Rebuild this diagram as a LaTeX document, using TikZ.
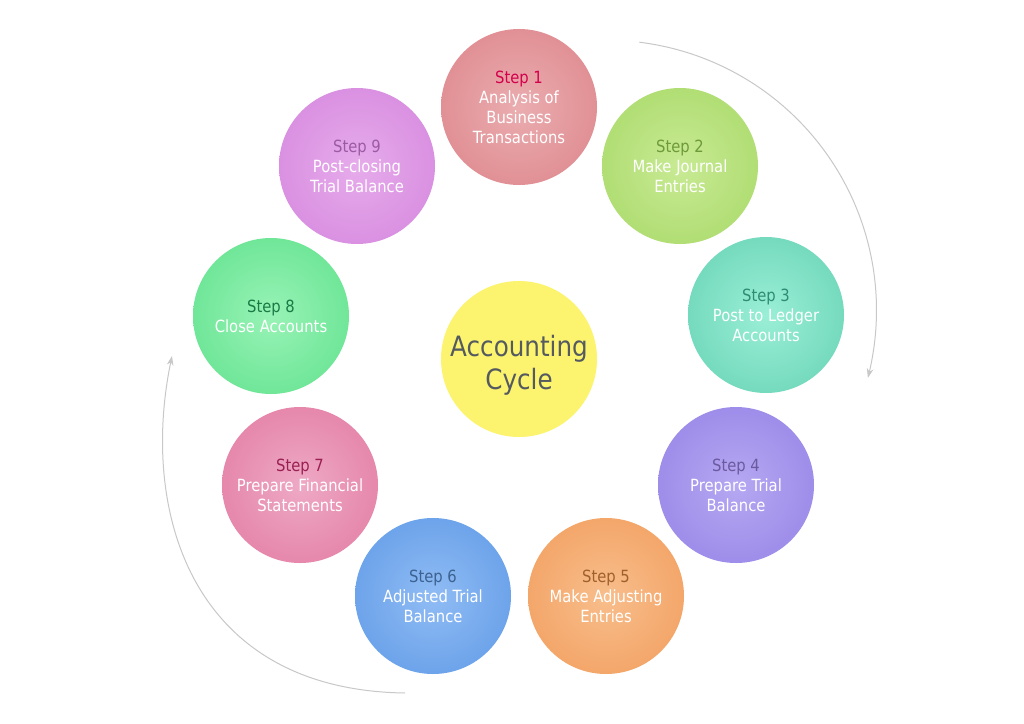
\documentclass[tikz,border=0pt]{standalone}
\usepackage{fontspec}
\setmainfont{DejaVu Sans}[FakeStretch=0.88]
\usetikzlibrary{arrows.meta}
\definecolor{o1}{HTML}{D8757B}\definecolor{i1}{HTML}{EAADB0}\definecolor{l1}{HTML}{D4004C}
\definecolor{o2}{HTML}{9BD256}\definecolor{i2}{HTML}{C8EA94}\definecolor{l2}{HTML}{6E9A3A}
\definecolor{o3}{HTML}{52C6A6}\definecolor{i3}{HTML}{9AEFD6}\definecolor{l3}{HTML}{2E8C72}
\definecolor{o4}{HTML}{8874E1}\definecolor{i4}{HTML}{B6A8F2}\definecolor{l4}{HTML}{6A5A9E}
\definecolor{o5}{HTML}{EF904A}\definecolor{i5}{HTML}{F8BE8C}\definecolor{l5}{HTML}{A0602E}
\definecolor{o6}{HTML}{4C8CE1}\definecolor{i6}{HTML}{90BCF4}\definecolor{l6}{HTML}{3C6290}
\definecolor{o7}{HTML}{DE6893}\definecolor{i7}{HTML}{EEA9C5}\definecolor{l7}{HTML}{9A1F52}
\definecolor{o8}{HTML}{4ADA7D}\definecolor{i8}{HTML}{98F3B6}\definecolor{l8}{HTML}{1A7A45}
\definecolor{o9}{HTML}{CE76D8}\definecolor{i9}{HTML}{E6ACEB}\definecolor{l9}{HTML}{9C5AA2}
\definecolor{cyel}{HTML}{FCF46F}
\definecolor{ctext}{HTML}{555A60}
\definecolor{arcgray}{HTML}{C8C8C8}
\pgfdeclareradialshading{sh1}{\pgfpointorigin}{color(0bp)=(i1); color(22bp)=(i1!55!o1); color(50bp)=(o1)}
\pgfdeclareradialshading{sh2}{\pgfpointorigin}{color(0bp)=(i2); color(22bp)=(i2!55!o2); color(50bp)=(o2)}
\pgfdeclareradialshading{sh3}{\pgfpointorigin}{color(0bp)=(i3); color(22bp)=(i3!55!o3); color(50bp)=(o3)}
\pgfdeclareradialshading{sh4}{\pgfpointorigin}{color(0bp)=(i4); color(22bp)=(i4!55!o4); color(50bp)=(o4)}
\pgfdeclareradialshading{sh5}{\pgfpointorigin}{color(0bp)=(i5); color(22bp)=(i5!55!o5); color(50bp)=(o5)}
\pgfdeclareradialshading{sh6}{\pgfpointorigin}{color(0bp)=(i6); color(22bp)=(i6!55!o6); color(50bp)=(o6)}
\pgfdeclareradialshading{sh7}{\pgfpointorigin}{color(0bp)=(i7); color(22bp)=(i7!55!o7); color(50bp)=(o7)}
\pgfdeclareradialshading{sh8}{\pgfpointorigin}{color(0bp)=(i8); color(22bp)=(i8!55!o8); color(50bp)=(o8)}
\pgfdeclareradialshading{sh9}{\pgfpointorigin}{color(0bp)=(i9); color(22bp)=(i9!55!o9); color(50bp)=(o9)}
\begin{document}
\begin{tikzpicture}[x=0.75pt,y=-0.75pt,
  bub/.style={circle, minimum size=117pt, inner sep=0pt, align=center, text=white,
    font=\fontsize{12.6pt}{15pt}\selectfont},
  hub/.style={circle, minimum size=117pt, inner sep=0pt, align=center, fill=cyel, text=ctext,
    font=\fontsize{21pt}{24.75pt}\selectfont},
  cyc/.style={draw=arcgray, line width=0.75pt, -{Stealth[length=7pt,width=5pt]}}]
\useasboundingbox[fill=white] (0,0) rectangle (1024,724);
\coordinate (ra) at (640,42);
\coordinate (la) at (405,693);
\coordinate (lb) at (172,356);
\draw[cyc] plot[domain=-83:14.5, samples=80, smooth] ({606.5+270*cos(\x)},{310.2+270*sin(\x)});
\draw[cyc] (la) .. controls (190,690) and (140,510) .. (lb);
\node[bub, shading=sh1] (s1) at (519,107) {\textcolor{l1}{Step 1}\\Analysis of\\Business\\Transactions};
\node[bub, shading=sh2] (s2) at (680,166) {\textcolor{l2}{Step 2}\\Make Journal\\Entries};
\node[bub, shading=sh3] (s3) at (766,315) {\textcolor{l3}{Step 3}\\Post to Ledger\\Accounts};
\node[bub, shading=sh4] (s4) at (736,485) {\textcolor{l4}{Step 4}\\Prepare Trial\\Balance};
\node[bub, shading=sh5] (s5) at (606,596) {\textcolor{l5}{Step 5}\\Make Adjusting\\Entries};
\node[bub, shading=sh6] (s6) at (433,596) {\textcolor{l6}{Step 6}\\Adjusted Trial\\Balance};
\node[bub, shading=sh7] (s7) at (300,485) {\textcolor{l7}{Step 7}\\Prepare Financial\\Statements};
\node[bub, shading=sh8] (s8) at (271,316) {\textcolor{l8}{Step 8}\\Close Accounts};
\node[bub, shading=sh9] (s9) at (357,166) {\textcolor{l9}{Step 9}\\Post-closing\\Trial Balance};
\node[circle, minimum size=117pt, fill=cyel] (hub) at (519,359) {};
\node[hub, fill=none, minimum size=0pt, yshift=-4.5pt] (hubtext) at (hub.center) {Accounting\\Cycle};
\end{tikzpicture}
\end{document}
